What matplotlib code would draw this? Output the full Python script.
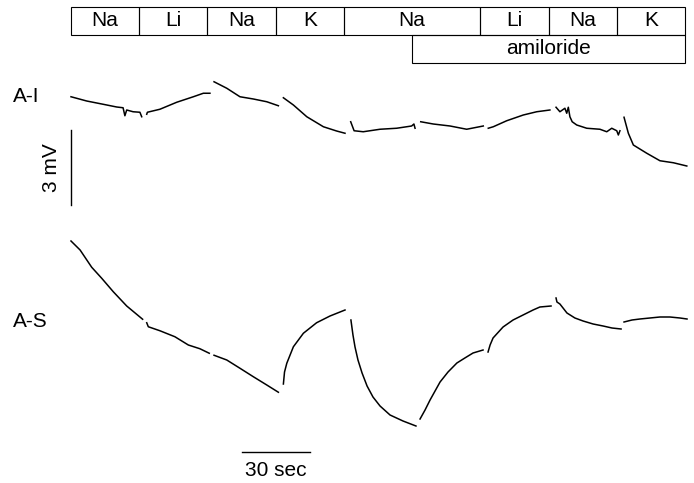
import numpy as np
import matplotlib
matplotlib.use("Agg")
import matplotlib.pyplot as plt
from matplotlib.patches import Rectangle

plt.rcParams['font.family'] = ['Liberation Sans', 'DejaVu Sans']

# solution protocol (s)
solutions = ["Na", "Li", "Na", "K", "Na", "Li", "Na", "K"]
durations = [30, 30, 30, 30, 60, 30, 30, 30]
amiloride_on = 150
amiloride_off = 270

# A-I trace, one piece per solution period: time (s), potential (mV, relative to start)
ai_t = [
    [0, 6.9, 14.1, 20.1, 22.9, 23.7, 24.5, 27.3, 30.3, 31.1],
    [33.3, 33.6, 39.1, 46.5, 53.8, 58.2, 61.1],
    [62.9, 68.5, 74.3, 80.2, 86.1, 91.2],
    [93.4, 97.8, 103.7, 111.0, 116.8, 120.5],
    [123.0, 124.5, 128.5, 135.9, 143.2, 147.6, 149.8, 150.8, 151.3],
    [153.8, 159.3, 166.7, 174.0, 181.3],
    [183.5, 185.7, 191.6, 198.9, 204.8, 210.6],
    [213.3, 215.0, 217.2, 218.0, 218.7, 219.4, 220.4, 222.4, 226.8, 232.6, 235.6, 237.8, 240.0, 240.7, 241.4],
    [243.2, 245.1, 247.3, 253.2, 259.0, 264.9, 270.8],
]
ai_v = [
    [-0.03, -0.20, -0.33, -0.44, -0.47, -0.79, -0.56, -0.63, -0.65, -0.83],
    [-0.73, -0.65, -0.53, -0.25, -0.03, 0.11, 0.11],
    [0.57, 0.31, -0.03, -0.12, -0.23, -0.39],
    [-0.07, -0.36, -0.83, -1.23, -1.40, -1.49],
    [-1.03, -1.39, -1.43, -1.33, -1.29, -1.23, -1.20, -1.12, -1.29],
    [-1.03, -1.12, -1.20, -1.33, -1.20],
    [-1.29, -1.23, -0.99, -0.76, -0.63, -0.56],
    [-0.45, -0.63, -0.49, -0.69, -0.45, -0.83, -1.03, -1.16, -1.29, -1.33, -1.43, -1.29, -1.39, -1.56, -1.39],
    [-0.85, -1.49, -1.96, -2.29, -2.59, -2.67, -2.80],
]

# A-S trace
as_t = [
    [0, 4.0, 9.1, 13.5, 18.6, 24.5, 31.5],
    [33.3, 34.0, 39.1, 45.7, 51.6, 56.7, 60.8],
    [62.9, 68.5, 74.3, 80.2, 86.1, 91.2],
    [93.4, 93.9, 94.9, 97.8, 102.2, 108.0, 113.9, 120.5],
    [123.1, 124.0, 124.9, 126.2, 128.0, 130.2, 132.8, 135.9, 140.3, 146.0, 151.7],
    [153.5, 155.7, 157.9, 162.3, 165.8, 169.7, 173.2, 176.8, 181.2],
    [183.4, 184.3, 185.6, 190.0, 194.4, 198.8, 203.2, 206.2, 211.1],
    [213.3, 213.7, 215.0, 218.1, 221.6, 225.2, 229.6, 234.0, 237.9, 241.9],
    [243.2, 246.7, 250.2, 254.6, 259.0, 263.4, 267.8, 270.9],
]
as_v = [
    [0, -0.36, -1.05, -1.49, -2.03, -2.60, -3.13],
    [-3.27, -3.43, -3.59, -3.83, -4.16, -4.31, -4.49],
    [-4.57, -4.76, -5.09, -5.43, -5.76, -6.05],
    [-5.72, -5.24, -4.89, -4.23, -3.69, -3.27, -3.00, -2.76],
    [-3.16, -3.76, -4.24, -4.76, -5.28, -5.80, -6.24, -6.60, -6.96, -7.20, -7.40],
    [-7.12, -6.76, -6.36, -5.64, -5.24, -4.88, -4.68, -4.48, -4.36],
    [-4.44, -4.16, -3.88, -3.44, -3.16, -2.96, -2.76, -2.64, -2.60],
    [-2.28, -2.44, -2.52, -2.88, -3.08, -3.20, -3.32, -3.40, -3.48, -3.52],
    [-3.24, -3.16, -3.12, -3.08, -3.04, -3.04, -3.08, -3.12],
]

AI_OFFSET = 0.0
AS_OFFSET = -5.8

fig = plt.figure(figsize=(6.94, 4.83), dpi=100)
ax = fig.add_axes([0, 0, 1, 1])
ax.set_xlim(-31.22, 273.97)
ax.set_ylim(-15.48, 3.84)
ax.set_axis_off()

for t, v in zip(ai_t, ai_v):
    ax.plot(t, np.array(v) + AI_OFFSET, color="black", lw=1.1,
            solid_joinstyle="round")
for t, v in zip(as_t, as_v):
    ax.plot(t, np.array(v) + AS_OFFSET, color="black", lw=1.1,
            solid_joinstyle="round")

# solution bar
box_top, box_mid, box_bot = 3.56, 2.44, 1.32
t0 = 0
for name, d in zip(solutions, durations):
    ax.add_patch(Rectangle((t0, box_mid), d, box_top - box_mid, fill=False,
                           edgecolor="black", lw=0.8))
    ax.text(t0 + d / 2, (box_top + box_mid) / 2, name, ha="center", va="center",
            fontsize=15)
    t0 += d
ax.add_patch(Rectangle((amiloride_on, box_bot), amiloride_off - amiloride_on,
                       box_mid - box_bot, fill=False, edgecolor="black", lw=0.8))
ax.text((amiloride_on + amiloride_off) / 2, (box_mid + box_bot) / 2, "amiloride",
        ha="center", va="center", fontsize=15)

# trace labels
ax.text(-25.5, AI_OFFSET, "A-I", ha="left", va="center", fontsize=15)
ax.text(-25.5, AS_OFFSET - 3.24, "A-S", ha="left", va="center", fontsize=15)

# scale bars
ax.plot([0, 0], [-1.36, -4.36], color="black", lw=1.0)
ax.text(-8.4, -2.86, "3 mV", rotation=90, ha="center", va="center", fontsize=15)
ax.plot([75.2, 105.2], [-14.24, -14.24], color="black", lw=1.0)
ax.text(90.2, -14.62, "30 sec", ha="center", va="top", fontsize=15)

fig.savefig("out.png", dpi=100)
